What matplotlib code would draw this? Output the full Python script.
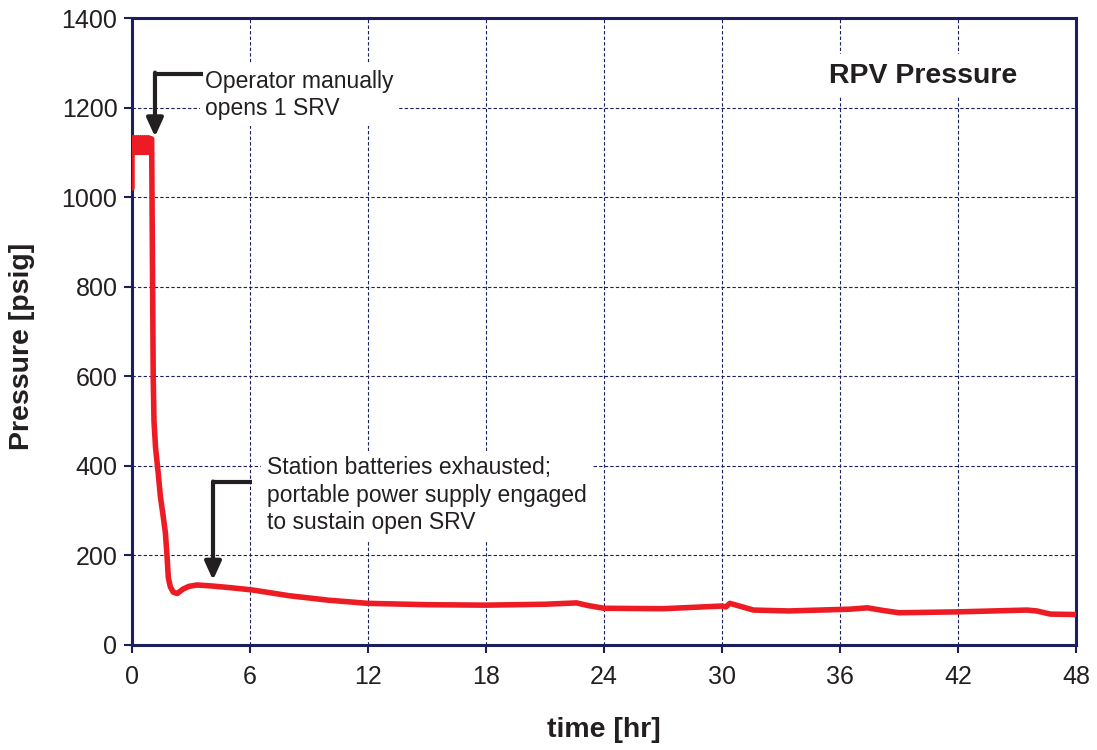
import matplotlib
matplotlib.use("Agg")
import matplotlib.pyplot as plt

plt.rcParams['font.family'] = ['Liberation Sans', 'DejaVu Sans']

# Early SRV cycling band (t < 1 hr)
t_early = [0.0, 0.0, 0.03, 0.08, 0.13, 0.18, 0.23, 0.28, 0.33, 0.38, 0.43, 0.48,
           0.53, 0.58, 0.63, 0.68, 0.73, 0.78, 0.83, 0.88, 0.93, 0.98]
p_early = [1020, 1132, 1100, 1132, 1100, 1132, 1100, 1132, 1100, 1132, 1100, 1132,
           1100, 1132, 1100, 1132, 1100, 1132, 1100, 1132, 1100, 1130]

# Depressurization and long-term trend
t_late = [1.0, 1.02, 1.05, 1.08, 1.12, 1.2, 1.32, 1.45, 1.58, 1.7, 1.78, 1.85, 1.95,
          2.1, 2.3, 2.6, 2.9, 3.3, 4.0, 5.0, 6.1, 8.0, 10.0, 12.0, 15.0, 18.0, 21.0,
          22.6, 23.2, 24.0, 27.0, 30.0, 30.2, 30.4, 30.8, 31.6, 33.4, 36.5, 37.4,
          38.2, 39.0, 42.0, 45.5, 46.0, 46.7, 48.0]
p_late = [1130, 1000, 800, 600, 500, 440, 390, 330, 290, 250, 200, 150, 130,
          118, 115, 125, 131, 134, 132, 128, 123, 110, 100, 93, 90, 89, 91,
          94, 88, 82, 81, 87, 85, 93, 88, 78, 76, 80, 83, 77, 72, 74, 78, 76,
          69, 68]

x_ticks = [0, 6, 12, 18, 24, 30, 36, 42, 48]
y_ticks = [0, 200, 400, 600, 800, 1000, 1200, 1400]

navy = '#1b1f5e'
red = '#ed1c24'
dark = '#231f20'

fig = plt.figure(figsize=(10.97, 7.5), dpi=100)
ax = fig.add_axes([0.1203, 0.14, 0.8606, 0.836])

ax.plot(t_early + t_late, p_early + p_late, color=red, lw=4.0,
        solid_joinstyle='round', solid_capstyle='round', zorder=3)

ax.set_xlim(0, 48)
ax.set_ylim(0, 1400)
ax.set_xticks(x_ticks)
ax.set_yticks(y_ticks)
ax.tick_params(labelsize=18, direction='out', length=5.5, width=1.5,
               color=navy, labelcolor=dark)
ax.tick_params(axis='x', pad=9)
ax.tick_params(axis='y', pad=5)
ax.grid(True, color=navy, ls=(0, (3, 2)), lw=0.8)
ax.set_axisbelow(True)
for s in ax.spines.values():
    s.set_color(navy)
    s.set_linewidth(2.2)

fig.text(604 / 1097, 1 - 730 / 750, 'time [hr]', fontsize=20.5, fontweight='bold',
         color=dark, ha='center', va='center')
fig.text(22 / 1097, 1 - 346 / 750, 'Pressure [psig]', fontsize=20.5, fontweight='bold',
         color=dark, ha='center', va='center', rotation=90)

# Title box
ax.text(0.838, 0.908, 'RPV Pressure', transform=ax.transAxes, fontsize=20.5,
        fontweight='bold', color=dark, ha='center', va='center',
        bbox=dict(facecolor='white', edgecolor='none', pad=6), zorder=4)

# Annotation 1
ax.text(3.72, 1228, 'Operator manually\nopens 1 SRV', fontsize=16.5, color=dark,
        ha='left', va='center', linespacing=1.25,
        bbox=dict(facecolor='white', edgecolor='none', pad=4), zorder=4)
ax.plot([3.6, 1.17], [1276, 1276], color=dark, lw=3, zorder=5, solid_capstyle='butt')
ax.annotate('', xy=(1.17, 1135), xytext=(1.17, 1278),
            arrowprops=dict(arrowstyle='-|>,head_length=1.1,head_width=0.5',
                            color=dark, lw=3, shrinkA=0, shrinkB=0), zorder=5)

# Annotation 2
ax.text(6.85, 334, 'Station batteries exhausted;\nportable power supply engaged\nto sustain open SRV',
        fontsize=16.5, color=dark, ha='left', va='center', linespacing=1.25,
        bbox=dict(facecolor='white', edgecolor='none', pad=4), zorder=4)
ax.plot([6.1, 4.12], [363, 363], color=dark, lw=3, zorder=5, solid_capstyle='butt')
ax.annotate('', xy=(4.12, 145), xytext=(4.12, 365),
            arrowprops=dict(arrowstyle='-|>,head_length=1.1,head_width=0.5',
                            color=dark, lw=3, shrinkA=0, shrinkB=0), zorder=5)

fig.savefig('out.png', dpi=100)
